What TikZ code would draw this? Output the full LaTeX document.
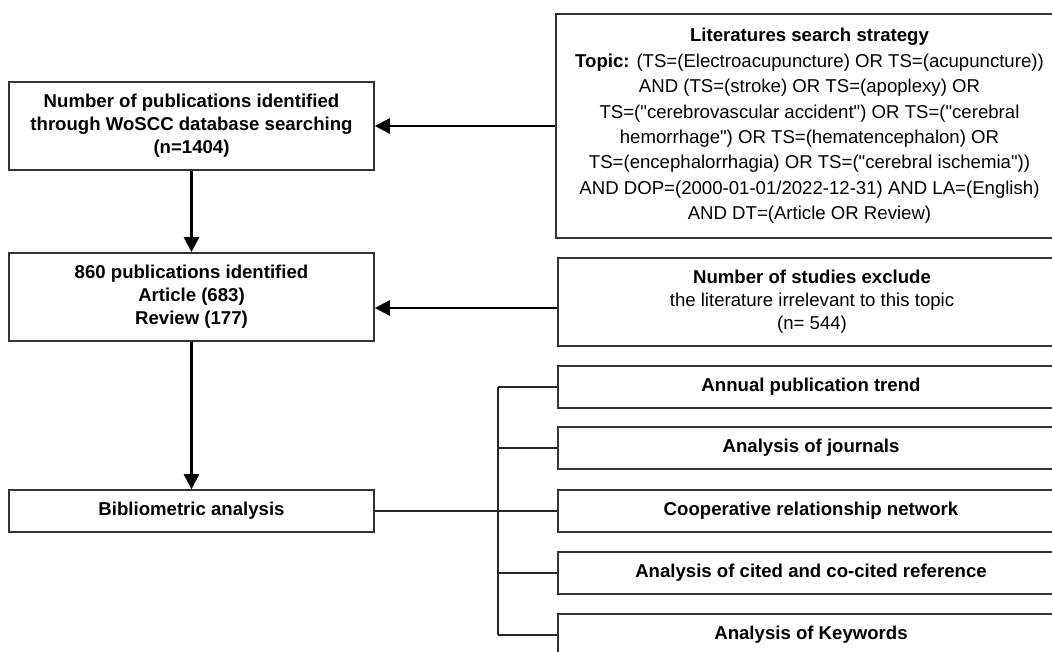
\documentclass[tikz,border=0pt]{standalone}
\usepackage{fontspec}
\setmainfont[Ligatures=TeXOff]{Liberation Sans}
\usetikzlibrary{arrows.meta,calc}
\begin{document}
\begin{tikzpicture}[x=1pt,y=-1pt,
  box/.style={draw=black!80,line width=1.6pt,inner sep=0pt,align=center,anchor=center},
  bf/.style={font=\fontsize{18.6}{23}\selectfont\bfseries},
  rf/.style={font=\fontsize{18.6}{23}\selectfont},
  arr/.style={line width=2.6pt,-{Triangle[length=15pt,width=15pt]}},
  link/.style={line width=1.6pt,draw=black!85}]
\clip (0,0) rectangle (1052,651);
\fill[white] (0,0) rectangle (1052,651);
% left column
\node[box,bf,minimum width=365pt,minimum height=88pt] (b1) at (191.5,126)
  {Number of publications identified\\through WoSCC database searching\\(n=1404)};
\node[box,bf,minimum width=365pt,minimum height=88pt] (b2) at (191.5,297)
  {860 publications identified\\Article (683)\\Review (177)};
\node[box,bf,minimum width=365pt,minimum height=42pt] (b3) at (191.5,511)
  {Bibliometric analysis};
% right column
\node[box,rf,font=\fontsize{18.6}{25.4}\selectfont,minimum width=507pt,minimum height=224pt] (srch) at (809.5,126)
  {\textbf{Literatures search strategy}\\
   \textbf{Topic:} (TS=(Electroacupuncture) OR TS=(acupuncture))\\
   AND (TS=(stroke) OR TS=(apoplexy) OR\\
   TS=("cerebrovascular accident") OR TS=("cerebral\\
   hemorrhage") OR TS=(hematencephalon) OR\\
   TS=(encephalorrhagia) OR TS=("cerebral ischemia"))\\
   AND DOP=(2000-01-01/2022-12-31) AND LA=(English)\\
   AND DT=(Article OR Review)};
\node[box,rf,minimum width=508pt,minimum height=88pt] (excl) at (812,302)
  {\textbf{Number of studies exclude}\\the literature irrelevant to this topic\\(n= 544)};
\node[box,bf,minimum width=506pt,minimum height=42pt] (a1) at (811,387) {Annual publication trend};
\node[box,bf,minimum width=506pt,minimum height=42pt] (a2) at (811,448) {Analysis of journals};
\node[box,bf,minimum width=506pt,minimum height=42pt] (a3) at (811,511) {Cooperative relationship network};
\node[box,bf,minimum width=506pt,minimum height=42pt] (a4) at (811,573) {Analysis of cited and co-cited reference};
\node[box,bf,minimum width=506pt,minimum height=42pt] (a5) at (811,635) {Analysis of Keywords};
% arrows
\draw[arr] (b1) -- (b2);
\draw[arr] (b2) -- (b3);
\draw[arr] (srch.west) -- (srch.west -| b1.east);
\coordinate (e2) at ([yshift=-6pt]excl.west);
\draw[arr] (e2) -- (e2 -| b2.east);
% bracket
\coordinate (br) at (498,511);
\draw[link] (b3.east) -- (a3.west);
\draw[link] (br |- a1.west) -- (br |- a5.west);
\draw[link] (br |- a1.west) -- (a1.west);
\draw[link] (br |- a2.west) -- (a2.west);
\draw[link] (br |- a4.west) -- (a4.west);
\draw[link] (br |- a5.west) -- (a5.west);
\end{tikzpicture}
\end{document}
